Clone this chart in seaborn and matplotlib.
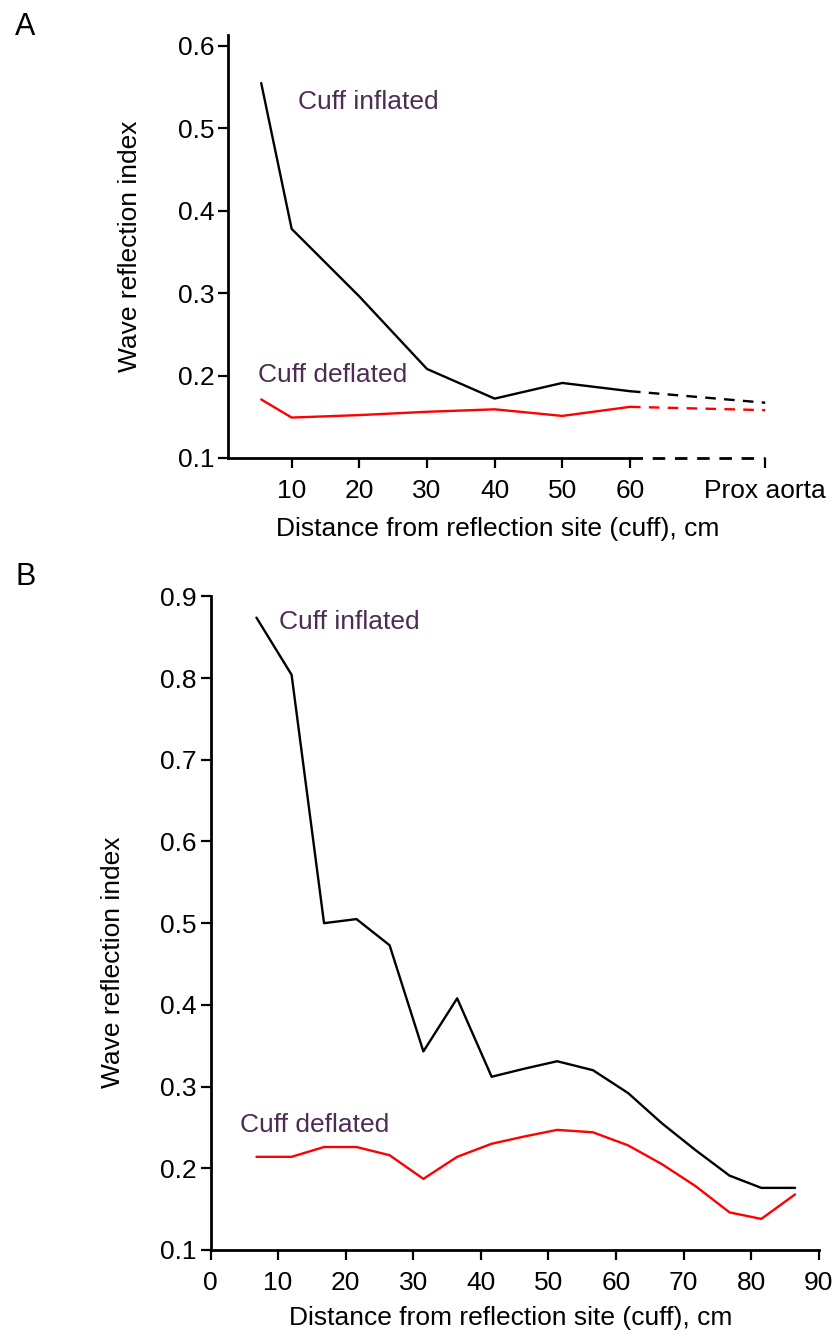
import pandas as pd
import seaborn as sns
import matplotlib.pyplot as plt

# Panel A: distance along arm (cm), last point continues to the proximal aorta
dist_a = [5.5, 10, 20, 30, 40, 50, 60]
inflated_a = [0.555, 0.378, 0.296, 0.208, 0.172, 0.191, 0.181]
deflated_a = [0.171, 0.149, 0.152, 0.156, 0.159, 0.151, 0.162]
prox_x = 80
prox_inflated = 0.167
prox_deflated = 0.158
ticks_a = [10, 20, 30, 40, 50, 60, 80]
ticklabels_a = ["10", "20", "30", "40", "50", "60", "Prox aorta"]

# Panel B
dist_b = [6.8, 12.0, 16.8, 21.6, 26.5, 31.5, 36.5, 41.6, 46.5, 51.3,
          56.6, 61.8, 66.8, 71.8, 76.8, 81.5, 86.5]
inflated_b = [0.874, 0.804, 0.500, 0.505, 0.473, 0.343, 0.408, 0.312, 0.322, 0.331,
              0.320, 0.292, 0.255, 0.222, 0.191, 0.176, 0.176]
deflated_b = [0.214, 0.214, 0.226, 0.226, 0.216, 0.187, 0.214, 0.230, 0.239, 0.247,
              0.244, 0.228, 0.205, 0.178, 0.146, 0.138, 0.168]

TXT = "#4d2c53"
FS = 19
DASH = (0, (4.5, 3.5))

sns.set_style("ticks")
plt.rcParams["font.family"] = ["Liberation Sans", "DejaVu Sans"]
plt.rcParams["text.color"] = "black"
plt.rcParams["axes.labelcolor"] = "black"


def style_axes(ax):
    for side in ["top", "right"]:
        ax.spines[side].set_visible(False)
    for side in ["left", "bottom"]:
        ax.spines[side].set_linewidth(2)
        ax.spines[side].set_color("black")
    ax.tick_params(axis="both", direction="out", length=7, width=1.6,
                   labelsize=FS, color="black", labelcolor="black")
    ax.tick_params(axis="y", pad=3)
    ax.tick_params(axis="x", pad=8)
    ax.grid(False)


fig = plt.figure(figsize=(8.35, 13.39), dpi=100)

# ---- panel A ----
ax1 = fig.add_axes([0.2731, 0.6580, 0.6515, 0.3157])
df_a = pd.DataFrame({"d": dist_a, "inf": inflated_a, "def": deflated_a})
sns.lineplot(data=df_a, x="d", y="inf", color="black", lw=1.7, ax=ax1, clip_on=False)
sns.lineplot(data=df_a, x="d", y="def", color="red", lw=1.7, ax=ax1, clip_on=False)
ext_a = pd.DataFrame({"d": [dist_a[-1], prox_x],
                      "inf": [inflated_a[-1], prox_inflated],
                      "def": [deflated_a[-1], prox_deflated],
                      "base": [0.1, 0.1]})
sns.lineplot(data=ext_a, x="d", y="inf", color="black", lw=1.7, linestyle=DASH,
             ax=ax1, clip_on=False)
sns.lineplot(data=ext_a, x="d", y="def", color="red", lw=1.7, linestyle=DASH,
             ax=ax1, clip_on=False)
sns.lineplot(data=ext_a, x="d", y="base", color="black", lw=2, linestyle=DASH,
             ax=ax1, clip_on=False)
ax1.set_xlim(0.6, 81)
ax1.set_ylim(0.1, 0.613)
style_axes(ax1)
ax1.spines["bottom"].set_bounds(0.6, 60)
ax1.spines["left"].set_bounds(0.1, 0.613)
ax1.set_xticks(ticks_a)
ax1.set_xticklabels(ticklabels_a)
ax1.set_yticks([0.1, 0.2, 0.3, 0.4, 0.5, 0.6])
ax1.set_yticklabels(["0.1", "0.2", "0.3", "0.4", "0.5", "0.6"])
ax1.set_xlabel("Distance from reflection site (cuff), cm", fontsize=FS)
ax1.set_ylabel("Wave reflection index", fontsize=FS)
ax1.xaxis.set_label_coords(0.495, -0.14)
ax1.yaxis.set_label_coords(-0.158, 0.5)
ax1.text(10.9, 0.532, "Cuff inflated", color=TXT, fontsize=FS, va="center", ha="left")
ax1.text(5.0, 0.201, "Cuff deflated", color=TXT, fontsize=FS, va="center", ha="left")

# ---- panel B ----
ax2 = fig.add_axes([0.2521, 0.0665, 0.7284, 0.4881])
df_b = pd.DataFrame({"d": dist_b, "inf": inflated_b, "def": deflated_b})
sns.lineplot(data=df_b, x="d", y="inf", color="black", lw=1.7, ax=ax2, clip_on=False)
sns.lineplot(data=df_b, x="d", y="def", color="red", lw=1.7, ax=ax2, clip_on=False)
ax2.set_xlim(0, 90)
ax2.set_ylim(0.1, 0.9)
style_axes(ax2)
ax2.set_xticks(range(0, 91, 10))
ax2.set_yticks([0.1, 0.2, 0.3, 0.4, 0.5, 0.6, 0.7, 0.8, 0.9])
ax2.set_yticklabels(["0.1", "0.2", "0.3", "0.4", "0.5", "0.6", "0.7", "0.8", "0.9"])
ax2.set_xlabel("Distance from reflection site (cuff), cm", fontsize=FS)
ax2.set_ylabel("Wave reflection index", fontsize=FS)
ax2.xaxis.set_label_coords(0.494, -0.086)
ax2.yaxis.set_label_coords(-0.141, 0.44)
ax2.text(10.2, 0.869, "Cuff inflated", color=TXT, fontsize=FS, va="center", ha="left")
ax2.text(4.3, 0.2525, "Cuff deflated", color=TXT, fontsize=FS, va="center", ha="left")

fig.text(0.018, 0.9739, "A", fontsize=22, va="baseline", ha="left")
fig.text(0.019, 0.5631, "B", fontsize=22, va="baseline", ha="left")

plt.savefig("out.png", dpi=100)
